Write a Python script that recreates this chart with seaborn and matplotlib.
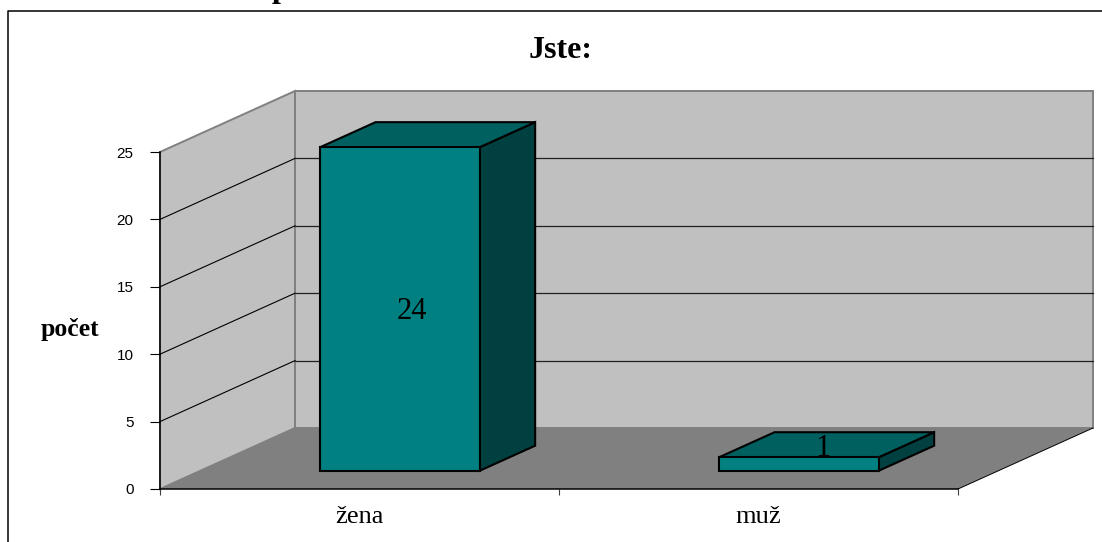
import numpy as np
import pandas as pd
import matplotlib
matplotlib.use("Agg")
import matplotlib.pyplot as plt
from matplotlib.patches import Polygon
from matplotlib.lines import Line2D
from matplotlib.transforms import ScaledTranslation, IdentityTransform
import seaborn as sns

# --- data ---------------------------------------------------------------
categories = ["žena", "muž"]
counts = [24, 1]
y_ticks = [0, 5, 10, 15, 20, 25]
title = "Jste:"
y_label = "počet"

# --- layout / style ------------------------------------------------------
W, H, DPI = 1102, 542, 100
DEPTH = np.array([135.0, 61.0])      # pixel shift from the front plane to the back wall
BAR_FRONT, BAR_BACK = 0.30, 0.71     # depth range occupied by the bars
LABEL_DEPTH = 0.39
label_nudge_px = [(0, -8), (12, 10)]

SERIF = "Liberation Serif"
SANS = "Liberation Sans"
FRONT_C, TOP_C, SIDE_C = "#008080", "#006060", "#004040"
WALL_C, FLOOR_C, WALL_EDGE = "#C0C0C0", "#808080", "#808080"
BAR_LW = 1.5

fig = plt.figure(figsize=(W / DPI, H / DPI), dpi=DPI)
fig.patch.set_facecolor("white")
ax = fig.add_axes([160 / W, (H - 489) / H, 798 / W, 337 / H])
ax.patch.set_visible(False)

df = pd.DataFrame({"pohlaví": categories, "počet": counts})
sns.barplot(data=df, x="pohlaví", y="počet", width=0.4, color=FRONT_C,
            saturation=1, edgecolor="black", linewidth=BAR_LW, ax=ax)
bars = list(ax.patches)

ymax = y_ticks[-1]
ax.set_xlim(-0.5, len(categories) - 0.5)
ax.set_ylim(0, ymax)
xl, xr = ax.get_xlim()


def proj(x, y, d):
    """Data point on the front plane pushed back by depth fraction d (display px)."""
    return ax.transData.transform((x, y)) + d * DEPTH


def poly(pts, z, **kw):
    ax.add_patch(Polygon(np.array(pts), closed=True, transform=IdentityTransform(),
                         clip_on=False, zorder=z, **kw))


def seg(p0, p1, z, **kw):
    ax.add_line(Line2D([p0[0], p1[0]], [p0[1], p1[1]], transform=IdentityTransform(),
                       clip_on=False, zorder=z, **kw))


# walls and floor
poly([proj(xl, 0, 0), proj(xl, ymax, 0), proj(xl, ymax, 1), proj(xl, 0, 1)], 0.5,
     facecolor=WALL_C, edgecolor=WALL_EDGE, linewidth=1.4)
poly([proj(xl, 0, 1), proj(xr, 0, 1), proj(xr, ymax, 1), proj(xl, ymax, 1)], 0.5,
     facecolor=WALL_C, edgecolor=WALL_EDGE, linewidth=1.4)
poly([proj(xl, 0, 0), proj(xr, 0, 0), proj(xr, 0, 1), proj(xl, 0, 1)], 0.6,
     facecolor=FLOOR_C, edgecolor="none")
seg(proj(xr, 0, 0), proj(xr, 0, 1), 0.7, color="black", linewidth=0.7)

# gridlines on both walls
for v in y_ticks[1:-1]:
    seg(proj(xl, v, 0), proj(xl, v, 1), 0.8, color="black", linewidth=0.8)
    seg(proj(xl, v, 1), proj(xr, v, 1), 0.8, color="#202020", linewidth=0.9)

# 3D bars: shift seaborn's front faces into depth, add top and side faces
front_shift = ScaledTranslation(BAR_FRONT * DEPTH[0] / DPI, BAR_FRONT * DEPTH[1] / DPI,
                                fig.dpi_scale_trans)
for bar in bars:
    x0 = bar.get_x()
    x1 = x0 + bar.get_width()
    v = bar.get_height()
    bar.set_transform(ax.transData + front_shift)
    bar.set_clip_on(False)
    bar.set_zorder(4)
    bar.set_joinstyle("miter")
    poly([proj(x1, 0, BAR_FRONT), proj(x1, v, BAR_FRONT), proj(x1, v, BAR_BACK),
          proj(x1, 0, BAR_BACK)], 3, facecolor=SIDE_C, edgecolor="black",
         linewidth=BAR_LW, joinstyle="miter")
    poly([proj(x0, v, BAR_FRONT), proj(x1, v, BAR_FRONT), proj(x1, v, BAR_BACK),
          proj(x0, v, BAR_BACK)], 3, facecolor=TOP_C, edgecolor="black",
         linewidth=BAR_LW, joinstyle="miter")

# value labels
for i, v in enumerate(counts):
    px, py = proj(i, v / 2, LABEL_DEPTH)
    nx, ny = label_nudge_px[i]
    ax.text(px + nx, py + ny, str(v), transform=IdentityTransform(), ha="center",
            va="center", fontsize=22, family=SERIF, color="black", zorder=6)

# axes
sns.despine(ax=ax)
for side in ("left", "bottom"):
    ax.spines[side].set_color("black")
    ax.spines[side].set_linewidth(1.1)
    ax.spines[side].set_zorder(2.5)
ax.set_xlabel("")
ax.set_ylabel("")
ax.set_yticks(y_ticks)
ax.tick_params(axis="y", direction="out", length=7, width=0.8, pad=12,
               labelsize=11, colors="black")
for lbl in ax.get_yticklabels():
    lbl.set_fontfamily(SANS)
ax.set_xticks(range(len(categories)), labels=categories)
ax.set_xticks(np.arange(xl, xr + 0.01, 1.0), minor=True)
ax.tick_params(axis="x", which="major", length=0, pad=12, labelsize=19)
ax.tick_params(axis="x", which="minor", length=4.5, width=0.8, direction="out",
               color="#404040")
for lbl in ax.get_xticklabels():
    lbl.set_fontfamily(SERIF)

# titles
fig.text(561, H - 58, title, transform=IdentityTransform(), ha="center", va="baseline",
         fontsize=23, fontweight="bold", family=SERIF)
fig.text(70, H - 336, y_label, transform=IdentityTransform(), ha="center",
         va="baseline", fontsize=18.5, fontweight="bold", family=SERIF)
fig.text(281, H + 3, "p", transform=IdentityTransform(), ha="center", va="baseline",
         fontsize=23, fontweight="bold", family=SERIF)

# chart frame
fig.add_artist(Line2D([8, 8, W + 10], [-10, H - 10.5, H - 10.5],
                      transform=IdentityTransform(), color="black", linewidth=1.1))

fig.savefig("out.png", dpi=DPI, facecolor="white")
